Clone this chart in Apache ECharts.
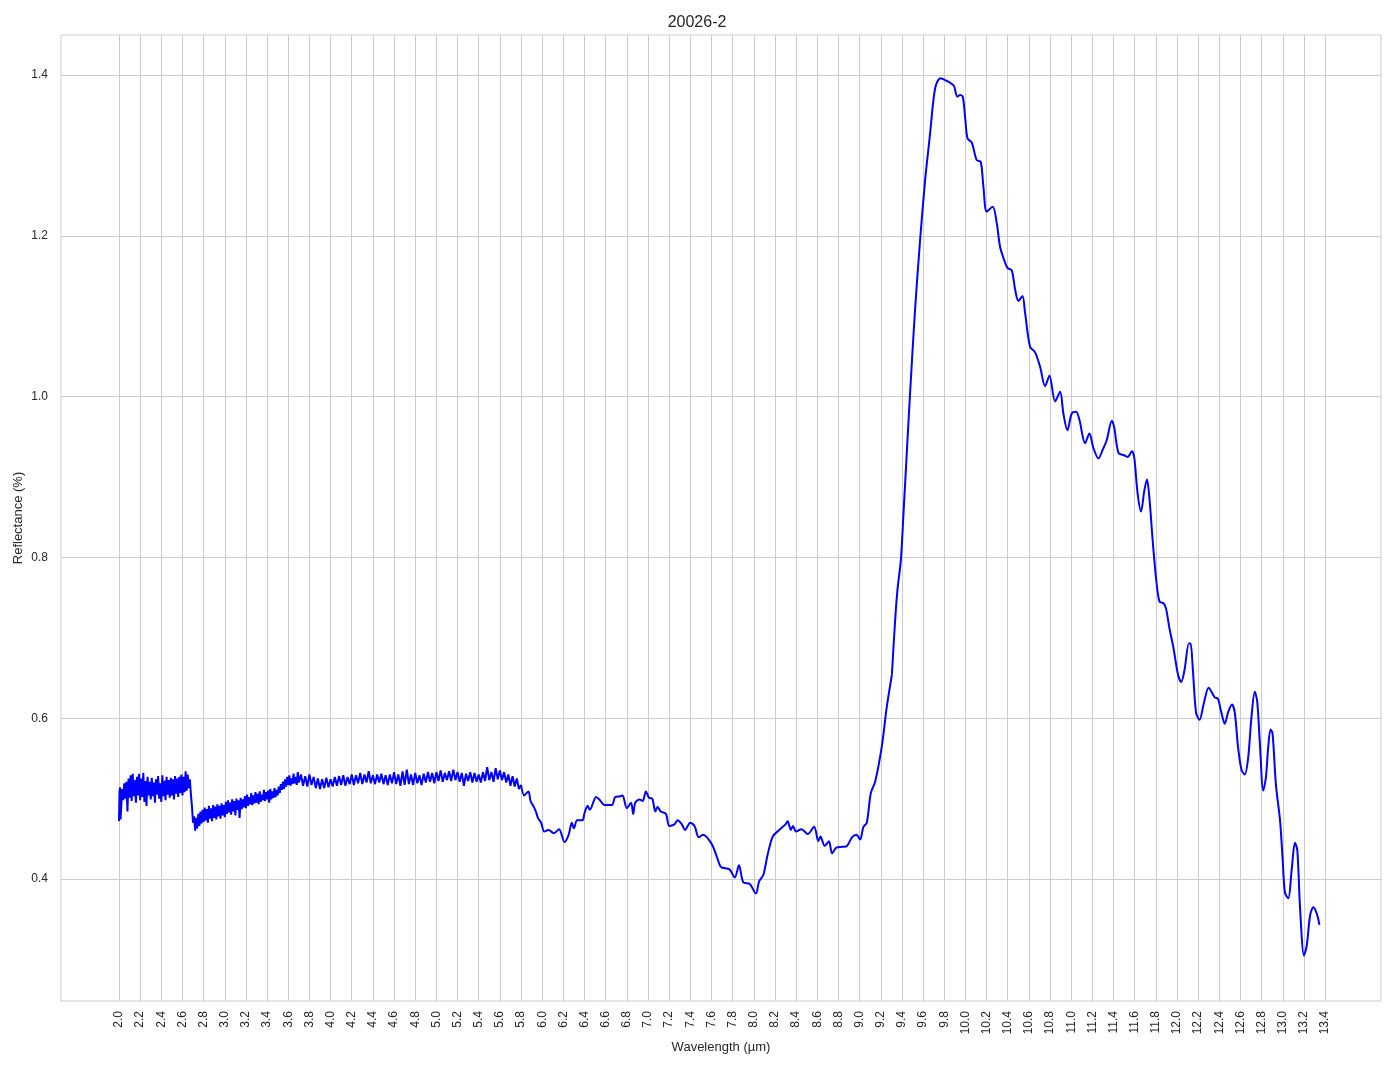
<!DOCTYPE html>
<html>
<head>
<meta charset="utf-8">
<script src="https://cdn.jsdelivr.net/npm/echarts@6/dist/echarts.min.js"></script>
<style>
html,body{margin:0;padding:0;background:#fff;}
#chart{width:1394px;height:1069px;}
</style>
</head>
<body>
<div id="chart"></div>
<script>
// Wavelength (µm) / reflectance pairs
const noisyRegion = [
[2.00,0.472],[2.005,0.508],[2.01,0.514],[2.015,0.474],[2.02,0.476],[2.03,0.512],[2.04,0.498],[2.05,0.519],[2.06,0.500],[2.07,0.521],[2.08,0.484],[2.09,0.525],
[2.10,0.501],[2.11,0.529],[2.12,0.497],[2.13,0.531],[2.14,0.503],[2.15,0.523],[2.16,0.495],[2.17,0.527],[2.18,0.504],[2.19,0.531],
[2.20,0.498],[2.21,0.525],[2.22,0.502],[2.23,0.532],[2.24,0.496],[2.25,0.522],[2.26,0.491],[2.27,0.527],[2.28,0.504],[2.29,0.521],
[2.30,0.499],[2.31,0.526],[2.32,0.503],[2.33,0.520],[2.34,0.495],[2.35,0.524],[2.36,0.505],[2.37,0.528],[2.38,0.500],[2.39,0.519],
[2.40,0.496],[2.41,0.529],[2.42,0.503],[2.43,0.522],[2.44,0.498],[2.45,0.527],[2.46,0.505],[2.47,0.523],[2.48,0.501],[2.49,0.526],
[2.50,0.504],[2.51,0.524],[2.52,0.499],[2.53,0.528],[2.54,0.506],[2.55,0.525],[2.56,0.502],[2.57,0.527],[2.58,0.507],[2.59,0.530],
[2.60,0.504],[2.61,0.527],[2.62,0.508],[2.63,0.534],[2.64,0.510],[2.65,0.530],[2.66,0.513],[2.67,0.524],[2.68,0.505],[2.69,0.490],
[2.70,0.470],[2.71,0.478],[2.72,0.460],[2.73,0.476],[2.74,0.463],[2.75,0.481],[2.76,0.466],[2.77,0.484],[2.78,0.469],[2.79,0.486],
[2.80,0.471],[2.81,0.489],[2.82,0.473],[2.83,0.487],[2.84,0.470],[2.85,0.491],[2.86,0.475],[2.87,0.488],[2.88,0.472],[2.89,0.492],
[2.90,0.476],[2.91,0.490],[2.92,0.474],[2.93,0.493],[2.94,0.478],[2.95,0.491],[2.96,0.475],[2.97,0.494],[2.98,0.479],[2.99,0.492],
[3.00,0.477],[3.01,0.496],[3.02,0.481],[3.03,0.498],[3.04,0.483],[3.05,0.495],[3.06,0.480],[3.07,0.499],[3.08,0.484],[3.09,0.497],
[3.10,0.479],[3.11,0.500],[3.12,0.486],[3.13,0.498],[3.14,0.476],[3.15,0.501],[3.16,0.487],[3.17,0.499],[3.18,0.489],[3.19,0.503],
[3.20,0.488],[3.21,0.505],[3.22,0.491],[3.23,0.502],[3.24,0.493],[3.25,0.507],[3.26,0.492],[3.27,0.504],[3.28,0.494],[3.29,0.508],
[3.30,0.495],[3.31,0.506],[3.32,0.493],[3.33,0.509],[3.34,0.496],[3.35,0.505],[3.36,0.498],[3.37,0.511],[3.38,0.497],[3.39,0.508],
[3.40,0.499],[3.41,0.510],[3.42,0.495],[3.43,0.512],[3.44,0.499],[3.45,0.509],[3.46,0.501],[3.47,0.513],[3.48,0.502],[3.49,0.511],
[3.50,0.504],[3.51,0.515],[3.52,0.507],[3.53,0.518],[3.54,0.511],[3.55,0.521],[3.56,0.512],[3.57,0.524],[3.58,0.515],[3.59,0.527],
[3.60,0.517],[3.61,0.529],[3.62,0.516],[3.63,0.525],[3.64,0.518],[3.65,0.531],[3.66,0.519],[3.67,0.527],[3.68,0.517],[3.69,0.533],
[3.70,0.520],[3.72,0.530],[3.74,0.516],[3.76,0.528],[3.78,0.515],[3.80,0.530],[3.82,0.517],[3.84,0.527],[3.86,0.513],[3.88,0.525],
[3.90,0.512],[3.92,0.524],[3.94,0.513],[3.96,0.526],[3.98,0.514],[4.00,0.524],[4.02,0.515],[4.04,0.527],[4.06,0.516],[4.08,0.528],
[4.10,0.517],[4.12,0.529],[4.14,0.516],[4.16,0.527],[4.18,0.518],[4.20,0.530],[4.22,0.517],[4.24,0.529],[4.26,0.519],[4.28,0.532],
[4.30,0.518],[4.32,0.530],[4.34,0.520],[4.36,0.534],[4.38,0.519],[4.40,0.529],[4.42,0.518],[4.44,0.530],[4.46,0.520],[4.48,0.531],
[4.50,0.518],[4.52,0.529],[4.54,0.517],[4.56,0.530],[4.58,0.519],[4.60,0.533],[4.62,0.518],[4.64,0.530],[4.66,0.516],[4.68,0.534],
[4.70,0.517],[4.72,0.536],[4.74,0.518],[4.76,0.530],[4.78,0.517],[4.80,0.532],[4.82,0.519],[4.84,0.529],[4.86,0.517],[4.88,0.531],
[4.90,0.520],[4.92,0.533],[4.94,0.521],[4.96,0.532],[4.98,0.519],[5.00,0.533],[5.02,0.522],[5.04,0.535],[5.06,0.521],[5.08,0.532],
[5.10,0.523],[5.12,0.534],[5.14,0.522],[5.16,0.536],[5.18,0.523],[5.20,0.533],[5.22,0.521],[5.24,0.532],[5.26,0.516],[5.28,0.531],
[5.30,0.522],[5.32,0.533],[5.34,0.520],[5.36,0.532],[5.38,0.521],[5.40,0.530],[5.42,0.520],[5.44,0.533],[5.46,0.522],[5.48,0.539],
[5.50,0.523],[5.52,0.533],[5.54,0.521],[5.56,0.538],[5.58,0.524],[5.60,0.535],[5.62,0.523],[5.64,0.533],[5.66,0.520],[5.68,0.530],
[5.70,0.516],[5.72,0.528],[5.74,0.515],[5.76,0.525],[5.78,0.512],[5.80,0.517]
];
const midRegion = [
[5.80,0.517],[5.83,0.504],[5.87,0.509],[5.89,0.497],[5.92,0.490],[5.94,0.484],[5.96,0.476],[5.99,0.470],[6.02,0.459],[6.06,0.461],
[6.11,0.457],[6.16,0.462],[6.21,0.446],[6.25,0.455],[6.28,0.470],[6.30,0.463],[6.33,0.473],[6.38,0.473],[6.40,0.482],[6.43,0.491],
[6.45,0.486],[6.51,0.502],[6.54,0.499],[6.59,0.492],[6.66,0.492],[6.69,0.502],[6.74,0.503],[6.76,0.504],[6.80,0.488],[6.84,0.495],
[6.86,0.481],[6.88,0.495],[6.92,0.499],[6.95,0.497],[6.98,0.509],[7.01,0.501],[7.04,0.500],[7.07,0.484],[7.09,0.490],[7.12,0.484],
[7.17,0.481],[7.20,0.466],[7.25,0.468],[7.28,0.473],[7.32,0.468],[7.35,0.461],[7.40,0.470],[7.44,0.466],[7.48,0.452],[7.52,0.455],
[7.60,0.444],[7.65,0.428],[7.69,0.415],[7.77,0.412],[7.82,0.402],[7.86,0.417],[7.90,0.396],[7.96,0.394],[8.02,0.382],[8.05,0.397],
[8.09,0.405],[8.13,0.430],[8.18,0.453],[8.24,0.461],[8.30,0.468],[8.32,0.472],[8.35,0.461],[8.37,0.466],[8.40,0.459],[8.45,0.462],
[8.51,0.456],[8.57,0.465],[8.61,0.447],[8.63,0.453],[8.67,0.441],[8.71,0.447],[8.74,0.432],[8.78,0.439],[8.84,0.440],[8.88,0.441],
[8.93,0.452],[8.97,0.455],[9.005,0.449],[9.036,0.465],[9.068,0.470],[9.106,0.507],[9.147,0.521],[9.21,0.565],[9.257,0.614],[9.305,0.654]
];
const peakRegion = [
[9.305,0.654],[9.336,0.722],[9.358,0.760],[9.39,0.797],[9.415,0.855],[9.446,0.930],[9.477,1.004],[9.524,1.108],[9.572,1.195],[9.619,1.269],
[9.666,1.327],[9.698,1.369],[9.723,1.388],[9.767,1.396],[9.817,1.393],[9.871,1.389],[9.893,1.386],[9.924,1.373],[9.95,1.375],[9.975,1.373],
[9.997,1.348],[10.02,1.321],[10.06,1.316],[10.107,1.294],[10.145,1.292],[10.17,1.261],[10.202,1.230],[10.258,1.236],[10.296,1.216],[10.328,1.186],
[10.366,1.170],[10.397,1.160],[10.438,1.157],[10.47,1.133],[10.501,1.119],[10.539,1.125],[10.564,1.104],[10.611,1.062],[10.659,1.055],[10.706,1.037],
[10.753,1.013],[10.794,1.026],[10.848,0.994],[10.895,1.006],[10.926,0.979],[10.964,0.958],[11.005,0.979],[11.046,0.981],[11.078,0.971],[11.131,0.942],
[11.172,0.954],[11.21,0.936],[11.257,0.923],[11.298,0.934],[11.336,0.946],[11.384,0.970],[11.406,0.962],[11.447,0.930],[11.50,0.927],[11.533,0.925],
[11.574,0.932],[11.596,0.924],[11.628,0.879],[11.66,0.857],[11.691,0.883],[11.716,0.897],[11.739,0.874],[11.77,0.821],[11.802,0.774],[11.834,0.745],
[11.872,0.743],[11.897,0.736],[11.928,0.712],[11.966,0.688],[12.008,0.655],[12.039,0.645],[12.071,0.660],[12.112,0.693],[12.128,0.693],[12.15,0.660],
[12.18,0.607],[12.213,0.598],[12.251,0.617],[12.299,0.638],[12.356,0.626],[12.387,0.624],[12.419,0.607],[12.451,0.593],[12.482,0.607],[12.52,0.617],
[12.546,0.607],[12.577,0.564],[12.609,0.536],[12.64,0.530],[12.672,0.550],[12.704,0.602],[12.735,0.633],[12.758,0.621],[12.783,0.569],[12.815,0.510],
[12.84,0.526],[12.862,0.564],[12.884,0.586],[12.903,0.581],[12.935,0.517],[12.973,0.474],[12.998,0.426],[13.02,0.383],[13.052,0.376],[13.084,0.412],
[13.115,0.445],[13.137,0.436],[13.163,0.364],[13.20,0.305],[13.226,0.317],[13.258,0.355],[13.289,0.365],[13.321,0.357],[13.346,0.343]
];
const xTicks = [2.0,2.2,2.4,2.6,2.8,3.0,3.2,3.4,3.6,3.8,4.0,4.2,4.4,4.6,4.8,5.0,5.2,5.4,5.6,5.8,6.0,6.2,6.4,6.6,6.8,7.0,7.2,7.4,7.6,7.8,8.0,8.2,8.4,8.6,8.8,9.0,9.2,9.4,9.6,9.8,10.0,10.2,10.4,10.6,10.8,11.0,11.2,11.4,11.6,11.8,12.0,12.2,12.4,12.6,12.8,13.0,13.2,13.4];
const yTicks = [0.4,0.6,0.8,1.0,1.2,1.4];

const FONT = '"Liberation Sans", Arial, sans-serif';
const chart = echarts.init(document.getElementById('chart'), null, {renderer:'canvas'});
const lineStyle = {color:'#0000ff', width:2};
chart.setOption({
  animation:false,
  backgroundColor:'#ffffff',
  title:{text:'20026-2', left:'center', top:10, textStyle:{fontFamily:FONT, fontSize:16, fontWeight:'normal', color:'#262626'}},
  grid:{left:61, right:13, top:35, bottom:68, show:true, borderColor:'#cccccc', borderWidth:1, backgroundColor:'transparent'},
  xAxis:{
    type:'value', min:1.452, max:13.928,
    name:'Wavelength (µm)', nameLocation:'middle', nameGap:40, nameMoveOverlap:false,
    nameTextStyle:{fontFamily:FONT, fontSize:13, color:'#262626'},
    axisLine:{show:false}, axisTick:{show:false, customValues:xTicks},
    axisLabel:{customValues:xTicks, rotate:90, margin:10, fontFamily:FONT, fontSize:12, color:'#262626', formatter:v=>v.toFixed(1)},
    splitLine:{show:true, lineStyle:{color:'#cccccc', width:1}}
  },
  yAxis:{
    type:'value', min:0.2483, max:1.4497,
    name:'Reflectance (%)', nameLocation:'middle', nameGap:36, nameMoveOverlap:false,
    nameTextStyle:{fontFamily:FONT, fontSize:13, color:'#262626'},
    axisLine:{show:false}, axisTick:{show:false, customValues:yTicks},
    axisLabel:{customValues:yTicks, margin:13, fontFamily:FONT, fontSize:12, color:'#262626', formatter:v=>v.toFixed(1)},
    splitLine:{show:true, lineStyle:{color:'#cccccc', width:1}}
  },
  series:[
    {type:'line', data:noisyRegion, showSymbol:false, lineStyle:lineStyle, silent:true},
    {type:'line', data:midRegion, showSymbol:false, smooth:0.3, lineStyle:lineStyle, silent:true},
    {type:'line', data:peakRegion, showSymbol:false, smooth:0.3, lineStyle:lineStyle, silent:true}
  ]
});
</script>
</body>
</html>
